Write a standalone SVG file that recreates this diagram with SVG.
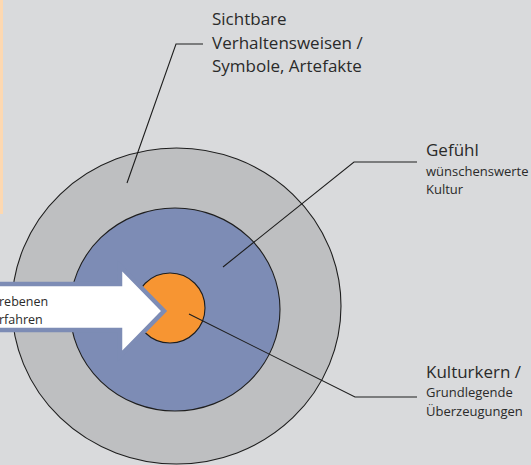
<svg xmlns="http://www.w3.org/2000/svg" width="531" height="465" viewBox="0 0 531 465">
<style>
.ring{stroke:#1e1e1e;stroke-width:1.1}
.lead{fill:none;stroke:#1e1e1e;stroke-width:1.1}
.t{font-family:"Open Sans","Noto Sans",sans-serif;fill:#2a2a2a}
.big{font-size:17px}
.small{font-size:13px}
.arr{font-size:12.5px}
</style>
<rect x="0" y="0" width="531" height="465" fill="#d9dadc"/>
<rect x="0" y="0" width="3" height="214" fill="#fdd8b1"/>
<g id="outer"><ellipse class="ring" cx="176.5" cy="306" rx="164.5" ry="158" fill="#bebfc1"/></g>
<g id="middle"><ellipse class="ring" cx="175" cy="309.5" rx="105" ry="101.5" fill="#7d8cb5"/></g>
<g id="core"><circle class="ring" cx="170" cy="308" r="35" fill="#f79532"/></g>
<g id="arrow">
<polygon points="-10,284 120,284 120,266 164,311 120,356 120,330 -10,330" fill="#ffffff" stroke="#7d8cb5" stroke-width="4.5" stroke-linejoin="miter"/>
<text class="t arr" x="-1" y="306">rebenen</text>
<text class="t arr" x="-1" y="324">rfahren</text>
</g>
<g id="connectors">
<polyline class="lead" points="127,183 176,44 203,44"/>
<polyline class="lead" points="223,267 354,162 417,162"/>
<polyline class="lead" points="189,314 355,397 417,397"/>
</g>
<g id="label-sichtbar">
<text class="t big" x="212" y="25">Sichtbare</text>
<text class="t big" x="212" y="48.5">Verhaltensweisen /</text>
<text class="t big" x="212" y="72">Symbole, Artefakte</text>
</g>
<g id="label-gefuehl">
<text class="t big" x="426" y="156">Gefühl</text>
<text class="t small" x="426" y="175.5">wünschenswerte</text>
<text class="t small" x="426" y="194">Kultur</text>
</g>
<g id="label-kern">
<text class="t big" x="426" y="378">Kulturkern /</text>
<text class="t small" x="426" y="397">Grundlegende</text>
<text class="t small" x="426" y="415.5">Überzeugungen</text>
</g>
</svg>
